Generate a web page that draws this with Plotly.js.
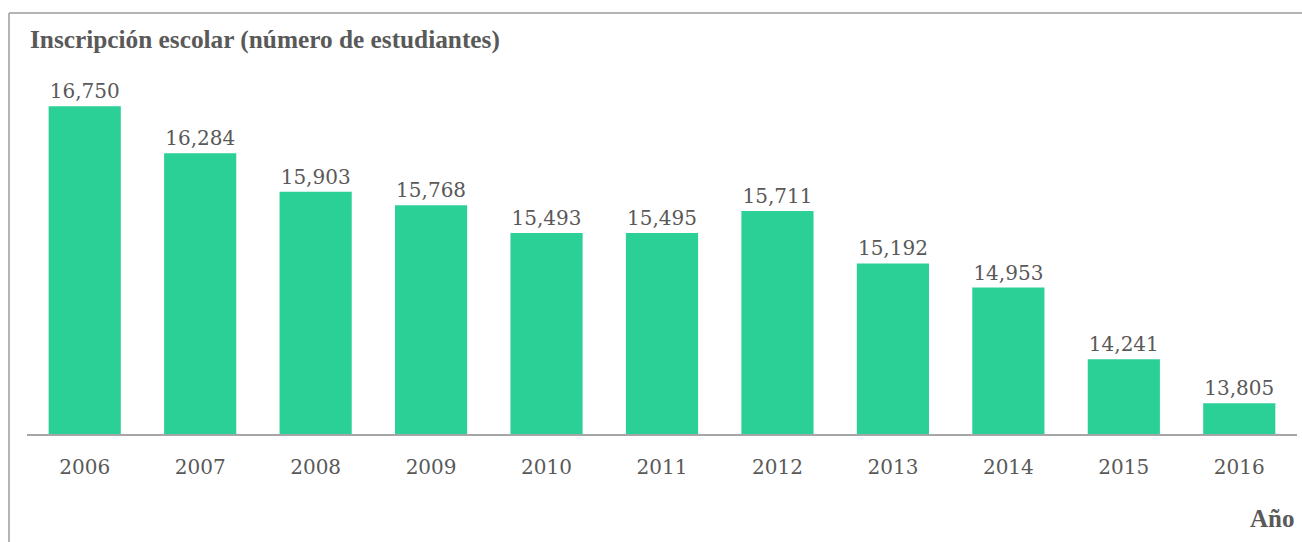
<!DOCTYPE html>
<html>
<head>
<meta charset="utf-8">
<script src="https://cdn.plot.ly/plotly-3.0.1.min.js"></script>
<style>
  html, body { margin: 0; padding: 0; background: #ffffff; }
  #chart { width: 1302px; height: 542px; }
</style>
</head>
<body>
<div id="chart"></div>
<script>
// Data
const years = ['2006', '2007', '2008', '2009', '2010', '2011', '2012', '2013', '2014', '2015', '2016'];
const students = [16750, 16284, 15903, 15768, 15493, 15495, 15711, 15192, 14953, 14241, 13805];

const chartTitle = 'Inscripción escolar (número de estudiantes)';
const xLabel = 'Año';

const trace = {
  type: 'bar',
  x: years,
  y: students,
  marker: { color: '#2bd096' },
  text: students.map(v => v.toLocaleString('en-US')),
  textposition: 'outside',
  textfont: { family: 'DejaVu Serif', size: 20, color: '#595959' },
  constraintext: 'none',
  cliponaxis: false,
  hoverinfo: 'x+y'
};

const borderColor = '#b4b4b4';

const layout = {
  width: 1302,
  height: 542,
  margin: { l: 27, r: 5, t: 60, b: 108, pad: 0 },
  paper_bgcolor: '#ffffff',
  plot_bgcolor: '#ffffff',
  showlegend: false,
  bargap: 0.375,
  title: {
    text: '<b>' + chartTitle + '</b>',
    font: { family: 'Liberation Serif', size: 25.3, color: '#595959' },
    xref: 'container', yref: 'container',
    x: 30 / 1302, xanchor: 'left',
    y: 1 - 39 / 542, yanchor: 'middle'
  },
  xaxis: {
    type: 'category',
    range: [-0.5, 10.5],
    showline: true,
    linecolor: '#a6a6a6',
    linewidth: 1.5,
    showgrid: false,
    zeroline: false,
    ticks: 'outside',
    ticklen: 14,
    tickcolor: 'rgba(0,0,0,0)',
    tickfont: { family: 'DejaVu Serif', size: 20, color: '#595959' },
    fixedrange: true
  },
  yaxis: {
    range: [13500, 17210],
    visible: false,
    showgrid: false,
    zeroline: false,
    fixedrange: true
  },
  annotations: [{
    text: '<b>' + xLabel + '</b>',
    xref: 'paper', yref: 'paper',
    x: (1296 - 27) / 1270, xanchor: 'right',
    y: (434 - 518) / 374, yanchor: 'middle',
    showarrow: false,
    font: { family: 'Liberation Serif', size: 25, color: '#595959' }
  }],
  shapes: [
    { type: 'line', xref: 'paper', yref: 'paper',
      x0: (9 - 27) / 1270, x1: (1302 - 27) / 1270,
      y0: (434 - 13) / 374, y1: (434 - 13) / 374,
      line: { color: borderColor, width: 2 } },
    { type: 'line', xref: 'paper', yref: 'paper',
      x0: (9 - 27) / 1270, x1: (9 - 27) / 1270,
      y0: (434 - 13) / 374, y1: (434 - 545) / 374,
      line: { color: borderColor, width: 2 } }
  ]
};

Plotly.newPlot('chart', [trace], layout, { displayModeBar: false, staticPlot: true });
</script>
</body>
</html>
